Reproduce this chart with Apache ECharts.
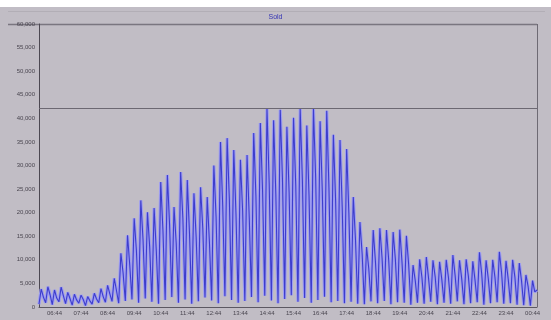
<!DOCTYPE html>
<html>
<head>
<meta charset="utf-8">
<script src="https://cdn.jsdelivr.net/npm/echarts@6/dist/echarts.min.js"></script>
<style>
  html, body { margin: 0; padding: 0; background: #c1bdc5; }
  #chart { width: 551px; height: 320px; }
</style>
</head>
<body>
<div id="chart"></div>
<script>
// Sales sampled every 5 minutes, starting at 06:09.
const chartTitle = 'Sold';
const startMinute = 6 * 60 + 9;
const stepMinutes = 5;

// Each 15-minute cycle: trough, peak, then a partial value.
const lows = [600, 900, 500, 1100, 700, 400, 800, 300, 600, 900,
  1000, 1200, 800, 1300, 1600, 900, 1800, 1100, 700, 1500,
  2100, 900, 1600, 700, 1200, 2000, 1400, 800, 2300, 1500,
  900, 1300, 2100, 1000, 2400, 1400, 800, 1700, 2500, 1100,
  1900, 900, 1500, 2200, 1000, 1300, 800, 1100, 700, 600,
  1200, 800, 1300, 600, 1000, 900, 500, 900, 700, 1100,
  600, 900, 700, 1200, 600, 800, 1000, 500, 800, 1000,
  700, 800, 500, 400, 300];
const peaks = [3800, 4300, 3600, 4200, 3100, 2700, 2500, 2200, 2900, 3900,
  4600, 6100, 11400, 15200, 18800, 22600, 20100, 21000, 26500, 28000,
  21200, 28600, 26900, 24100, 25400, 23300, 30000, 35000, 35800, 33300,
  31200, 32200, 36900, 39000, 42200, 39600, 41800, 38200, 40100, 42000,
  38500, 42100, 39400, 41600, 36500, 35400, 33500, 23300, 18000, 12700,
  16300, 16700, 16300, 15900, 16400, 15100, 8900, 10100, 10600, 9900,
  9600, 10000, 11000, 9900, 10100, 9700, 11600, 9900, 10000, 11700,
  9800, 10000, 9300, 6800, 5600];
const mids = [2100, 2600, 1900, 2400, 1800, 1500, 1600, 1300, 1700, 2200,
  2800, 3500, 7200, 8900, 12100, 14300, 12800, 11900, 16200, 17400,
  13500, 18800, 15600, 14900, 16700, 13800, 19200, 21500, 22900, 19700,
  20400, 18900, 23600, 24800, 26300, 23900, 27100, 24400, 25800, 26900,
  23700, 27400, 24600, 25300, 22800, 21100, 19900, 14200, 11300, 8100,
  9700, 10400, 9900, 10200, 9600, 9100, 5600, 6300, 6100, 6400,
  5800, 6200, 6700, 5900, 6500, 5700, 7100, 6000, 6300, 7200,
  5900, 6400, 5600, 4300, 3200];
const lastValue = 3600;

const sold = [];
for (let k = 0; k < peaks.length; k++) {
  sold.push(lows[k], peaks[k], mids[k]);
}
sold.push(lastValue);

const pad = n => (n < 10 ? '0' : '') + n;
const times = sold.map((_, i) => {
  const m = (startMinute + i * stepMinutes) % (24 * 60);
  return pad(Math.floor(m / 60)) + ':' + pad(m % 60);
});

const withCommas = v => String(v).replace(/\B(?=(\d{3})+(?!\d))/g, ',');
const font = 'Liberation Sans, Arial, sans-serif';

const chart = echarts.init(document.getElementById('chart'), null, { renderer: 'canvas' });
chart.setOption({
  backgroundColor: '#c1bdc5',
  animation: false,
  title: {
    text: chartTitle,
    left: 'center',
    top: 9,
    textStyle: { fontFamily: font, fontSize: 7, fontWeight: 'normal', color: '#3434b4' }
  },
  grid: { left: 39, right: 14, top: 24, bottom: 13, containLabel: false },
  xAxis: {
    type: 'category',
    data: times,
    boundaryGap: false,
    axisLine: { show: true, lineStyle: { color: '#5c5862', width: 1 } },
    axisTick: { show: false },
    axisLabel: {
      interval: (i) => i % 12 === 7,
      fontFamily: font, fontSize: 6, color: '#4a4650', margin: 3
    },
    splitLine: { show: false }
  },
  yAxis: {
    type: 'value',
    min: 0, max: 60000, interval: 5000,
    axisLine: { show: true, lineStyle: { color: '#4c4852', width: 1 } },
    axisTick: { show: false },
    axisLabel: {
      fontFamily: font, fontSize: 6, color: '#4a4650', margin: 4,
      formatter: withCommas
    },
    splitLine: { show: false }
  },
  series: [
    {
      // soft halo under the trace
      type: 'line',
      data: sold,
      symbol: 'none',
      silent: true,
      lineStyle: { color: '#9d9cf2', width: 3.2 },
      z: 1
    },
    {
      type: 'line',
      data: sold,
      symbol: 'none',
      lineStyle: { color: '#3d3dcc', width: 1.1 },
      z: 2,
      markLine: {
        silent: true,
        symbol: 'none',
        label: { show: false },
        lineStyle: { color: '#6c6872', type: 'solid', width: 1 },
        data: [{ type: 'max' }]
      }
    }
  ],
  graphic: [
    { type: 'rect', shape: { x: 0, y: 0, width: 551, height: 7 }, style: { fill: '#ffffff' }, silent: true },
    { type: 'line', shape: { x1: 8, y1: 11.5, x2: 545, y2: 11.5 }, style: { stroke: '#b2aeb6', lineWidth: 1 }, silent: true },
    { type: 'line', shape: { x1: 8, y1: 24.5, x2: 537, y2: 24.5 }, style: { stroke: '#7a7680', lineWidth: 1.5 }, silent: true },
    { type: 'line', shape: { x1: 537.5, y1: 24, x2: 537.5, y2: 307 }, style: { stroke: '#6e6a74', lineWidth: 1 }, silent: true }
  ]
});
</script>
</body>
</html>
